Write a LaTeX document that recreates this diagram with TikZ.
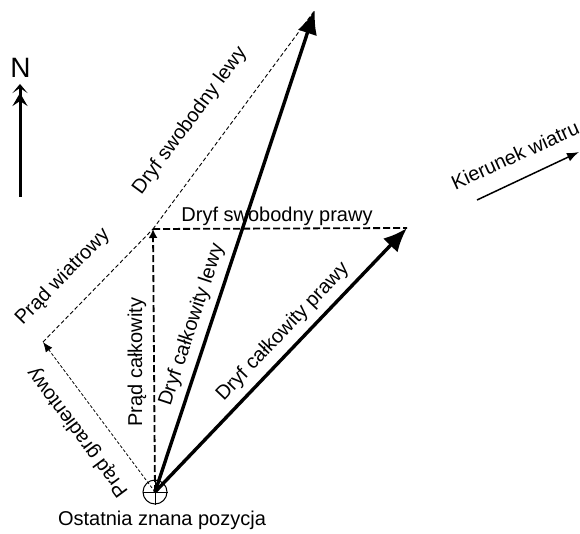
\documentclass[tikz,border=0pt]{standalone}
\usepackage{fontspec}
\setmainfont{Liberation Sans}
\usepackage{tikz}
\usetikzlibrary{arrows.meta, positioning, shapes}
\tikzset{
        vector/.style={line width=3.4pt, -{Latex[length=24pt,width=20pt]}}, % total drift
        halfdash/.style={line width=1.8pt, dash pattern=on 7pt off 3pt}, % total current, right leeway
        thindash/.style={line width=0.9pt, dash pattern=on 4pt off 2.5pt}, % wind current, left leeway
        label/.style={inner sep=1pt},
    }
\tikzstyle{position}=[draw,circle,line width=1pt,minimum size=24pt,inner sep=0pt]

\begin{document}
\begin{tikzpicture}[x=1pt, y=-1pt, font=\fontsize{20}{24}\selectfont]
    \useasboundingbox (0,0) rectangle (580,534);

    % points
    \node[position] (pos) at (155,492) {};
    \draw[line width=0.8pt] (pos.north) -- (pos.south);
    \draw[line width=0.8pt] (pos.west) -- (pos.east);
    \coordinate (cur) at (153,229);
    \coordinate (grad) at (43,342);
    \coordinate (left) at (315,10);
    \coordinate (right) at (407,228);

    % currents
    \draw[thindash, line width=0.8pt, dash pattern=on 3pt off 2pt, -{Latex[length=10pt,width=8pt]}] (pos.center) -- (grad);
    \draw[thindash] (grad) -- (cur);
    \draw[halfdash, -{Latex[length=9pt,width=9pt]}] (pos.center) -- (cur);

    % leeway
    \draw[thindash] (cur) -- (left);
    \draw[halfdash] (cur) -- (right);

    % total drift
    \draw[vector] (pos.center) -- (left);
    \draw[vector] (pos.center) -- (right);

    % north and wind
    \node[font=\fontsize{28}{32}\selectfont] (north) at (20.5,68) {N};
    \coordinate (nfoot) at (20,197);
    \coordinate (ntip) at (20,89);
    \draw[line width=3pt, -{Stealth[length=13pt,width=15pt,inset=5pt] Stealth[length=9pt,width=15pt,inset=5pt,sep=-5pt]}] (nfoot) -- (ntip);
    \coordinate (wfoot) at (477,200);
    \coordinate (wtip) at (579,152);
    \draw[line width=1.5pt, -{Latex[length=12pt,width=9pt]}] (wfoot) -- (wtip);

    % labels
    \node[label] (lastpos) at (162,520) {Ostatnia znana pozycja};
    \node[label, rotate=53.5] (freeleft) at (190,121) {Dryf swobodny lewy};
    \node[label] (freeright) at (277,216) {Dryf swobodny prawy};
    \node[label, rotate=45.8] (windcur) at (63,277) {Prąd wiatrowy};
    \node[label, rotate=126.6] (gradcur) at (78,432) {Prąd gradientowy};
    \node[label, rotate=90] (totalcur) at (137,362) {Prąd całkowity};
    \node[label, rotate=71.7] (totalleft) at (192,325) {Dryf całkowity lewy};
    \node[label, rotate=46.4] (totalright) at (283,332) {Dryf całkowity prawy};
    \node[label, rotate=24.5] (winddir) at (515,155) {Kierunek wiatru};
\end{tikzpicture}
\end{document}
